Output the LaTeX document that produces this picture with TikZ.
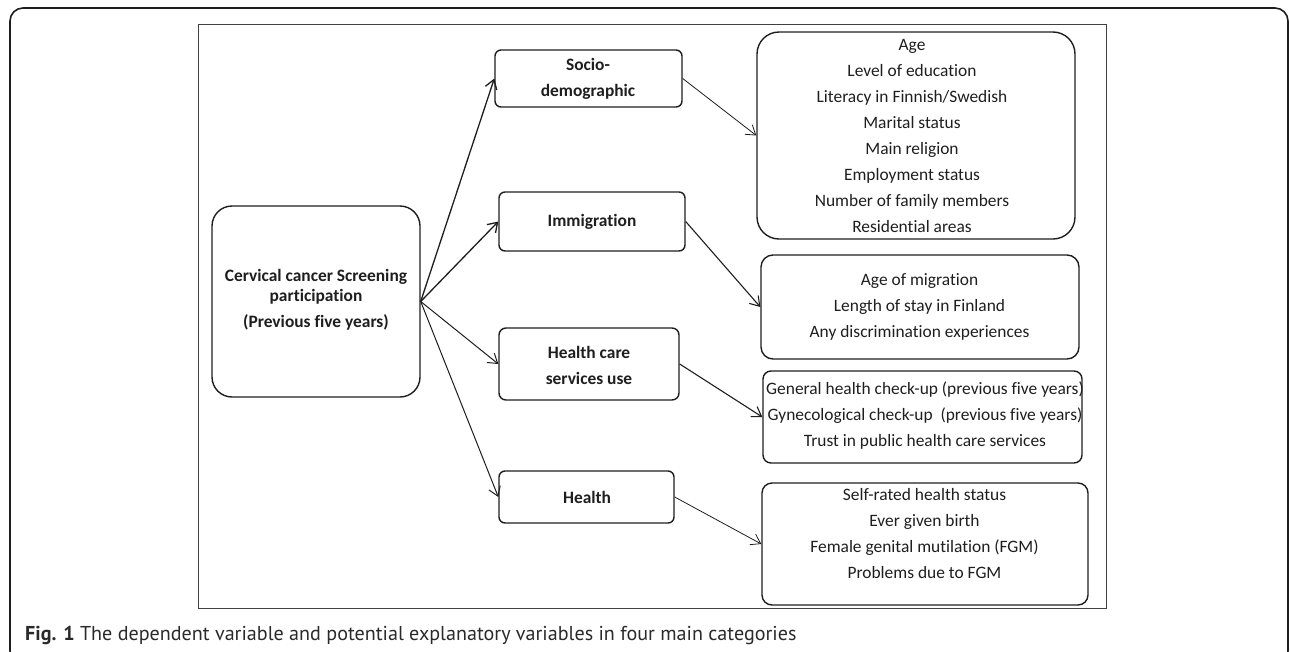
\documentclass[tikz,border=0pt]{standalone}
\usepackage{fontspec}
\setmainfont{Carlito}[Ligatures=NoCommon]
\newfontfamily\capfont{PT Sans}
\usetikzlibrary{arrows.meta}
\definecolor{ink}{HTML}{1E1E1E}
\definecolor{capink}{HTML}{2A2A2A}
\begin{document}
\begin{tikzpicture}[x=1pt,y=-1pt,
  box/.style={draw=ink, line width=1.4pt, inner sep=0pt},
  txt/.style={align=center, font=\fontsize{17.4}{26}\selectfont, text=ink, inner sep=0pt},
  btxt/.style={txt, font=\fontsize{17.4}{26}\selectfont\bfseries},
  arr/.style={-{Straight Barb[length=9pt,width=12pt]}, draw=ink, line width=1.3pt},
  thinarr/.style={arr, line width=0.8pt},
  frame/.style={draw=ink!85, line width=1pt},
  outer/.style={draw=ink, line width=1.6pt, rounded corners=13pt}
]
\useasboundingbox (0,0) rectangle (1290,651);
\begin{scope}
\clip (0,0) rectangle (1290,651);
\draw[outer] (10,8) rectangle (1288,664);
\end{scope}
\draw[frame] (198,24) rectangle (1106,608);

% left column
\node[box, rounded corners=20pt, minimum width=208pt, minimum height=191pt] (ctr) at (316,301.5) {};
\node[btxt, font=\fontsize{17.4}{19.5}\selectfont\bfseries] (ctrt) at (316,300) {Cervical cancer Screening\\participation\\[7pt](Previous five years)};

% middle column
\node[box, rounded corners=6pt, minimum width=187pt, minimum height=57pt] (soc) at (588.5,78.5) {};
\node[btxt] (soct) at (588,78.5) {Socio-\\demographic};
\node[box, rounded corners=6pt, minimum width=186pt, minimum height=59pt] (imm) at (592,221.5) {};
\node[btxt] (immt) at (592,221.5) {Immigration};
\node[box, rounded corners=7pt, minimum width=180pt, minimum height=72pt] (hcs) at (589,364) {};
\node[btxt] (hcst) at (589,365) {Health care\\services use};
\node[box, rounded corners=6pt, minimum width=175pt, minimum height=52pt] (hea) at (586.5,497) {};
\node[btxt] (heat) at (587,497) {Health};

% right column
\node[box, rounded corners=22pt, minimum width=318pt, minimum height=207pt] (b1) at (916,135.5) {};
\node[txt] (b1t) at (912,136) {Age\\Level of education\\Literacy in Finnish/Swedish\\Marital status\\Main religion\\Employment status\\Number of family members\\Residential areas};
\node[box, rounded corners=12pt, minimum width=318pt, minimum height=104pt] (b2) at (920,307) {};
\node[txt] (b2t) at (919.5,307) {Age of migration\\Length of stay in Finland\\Any discrimination experiences};
\node[box, rounded corners=8pt, minimum width=319pt, minimum height=92pt] (b3) at (922.5,417) {};
\node[txt] (b3t) at (925,415.5) {General health check-up (previous five years)\\Gynecological check-up\ \ (previous five years)\\Trust in public health care services};
\node[box, rounded corners=10pt, minimum width=326pt, minimum height=122pt] (b4) at (925,544) {};
\node[txt] (b4t) at (924.5,533.5) {Self-rated health status\\Ever given birth\\Female genital mutilation (FGM)\\Problems due to FGM};

% connectors
\draw[arr] (ctr.east) -- (soc.west);
\draw[arr] (ctr.east) -- (imm.west);
\draw[arr, line width=1pt] (ctr.east) -- (hcs.west);
\draw[arr, line width=1pt] (ctr.east) -- (hea.west);
\draw[thinarr] (soc.east) -- (b1.west);
\draw[arr, line width=1.1pt] (imm.east) -- (b2.west);
\draw[arr, line width=1.1pt] (hcs.east) -- (b3.west);
\draw[thinarr] (hea.east) -- (b4.west);

% caption
\node[anchor=base west, inner sep=0pt, text=capink, font=\capfont\fontsize{20.1}{22}\selectfont] (cap) at (25,640) {\textbf{Fig. 1} The dependent variable and potential explanatory variables in four main categories};
\end{tikzpicture}
\end{document}
